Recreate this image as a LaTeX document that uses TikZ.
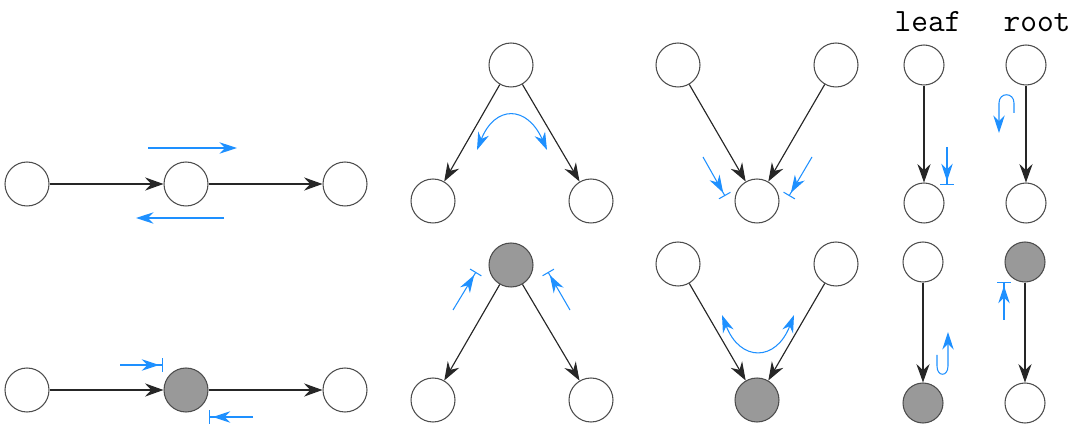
\documentclass[tikz,border=0pt]{standalone}
\usepackage{tikz}
\usetikzlibrary{arrows.meta}

\definecolor{flowblue}{RGB}{30,144,255}
\definecolor{hitgray}{RGB}{153,153,153}

\begin{document}
\begin{tikzpicture}[x=0.02cm, y=-0.02cm, >=Stealth,
  vtx/.style={circle, draw=black!70, line width=0.6pt, fill=white,
    minimum size=0.88cm, inner sep=0pt},
  sm/.style={minimum size=0.8cm},
  hit/.style={fill=hitgray},
  edg/.style={line width=0.65pt, black!85, -{Stealth[length=10.5pt,width=7.5pt,inset=3.5pt]}},
  flow/.style={line width=0.6pt, flowblue, -{Stealth[length=10pt,width=6.5pt,inset=3.2pt]}},
  twoway/.style={line width=0.6pt, flowblue,
    {Stealth[length=10pt,width=6.5pt,inset=3.2pt]}-{Stealth[length=10pt,width=6.5pt,inset=3.2pt]}},
  halt/.style={line width=0.6pt, flowblue,
    -{Stealth[length=10pt,width=6.5pt,inset=3.2pt,sep=1.5pt]Bar[width=7.5pt]}},
  lbl/.style={font=\ttfamily\fontsize{18.5}{18.5}\selectfont, anchor=base},
]
\useasboundingbox (0,0) rectangle (1080,429);

% Chain, forward and backward pass
\node[vtx] (a1) at (27,184) {};
\node[vtx] (a2) at (186,184) {};
\node[vtx] (a3) at (345,184) {};
\draw[edg] (a1) -- (a2);
\draw[edg] (a2) -- (a3);
\draw[flow] (148,148) -- (237,148);
\draw[flow] (224,218) -- (136,218);

% Chain, blocked at the middle vertex
\node[vtx] (b1) at (27,390) {};
\node[vtx,hit] (b2) at (186,390) {};
\node[vtx] (b3) at (345,390) {};
\draw[edg] (b1) -- (b2);
\draw[edg] (b2) -- (b3);
\draw[halt] (120,365) -- (163,365);
\draw[halt] (253,417) -- (209,417);

% Fork
\node[vtx] (f1) at (511,65) {};
\node[vtx] (f2) at (433,201) {};
\node[vtx] (f3) at (591,201) {};
\draw[edg] (f1) -- (f2);
\draw[edg] (f1) -- (f3);
\draw[twoway] (477,150) .. controls (495,105) and (527,105) .. (547,150);

% Fork, blocked at the top
\node[vtx,hit] (g1) at (511,265) {};
\node[vtx] (g2) at (433,400) {};
\node[vtx] (g3) at (591,400) {};
\draw[edg] (g1) -- (g2);
\draw[edg] (g1) -- (g3);
\draw[halt] (453,310) -- (476,272);
\draw[halt] (570,310) -- (548,272);

% Collider
\node[vtx] (v1) at (678,65) {};
\node[vtx] (v2) at (836,65) {};
\node[vtx] (v3) at (757,201) {};
\draw[edg] (v1) -- (v3);
\draw[edg] (v2) -- (v3);
\draw[halt] (703,157) -- (725,196);
\draw[halt] (812,157) -- (789,196);

% Collider, observed
\node[vtx] (w1) at (678,264) {};
\node[vtx] (w2) at (836,264) {};
\node[vtx,hit] (w3) at (757,400) {};
\draw[edg] (w1) -- (w3);
\draw[edg] (w2) -- (w3);
\draw[twoway] (722,315) .. controls (740,362) and (776,362) .. (794,315);

% leaf / root
\node[lbl] (leaf) at (928,32) {leaf};
\node[lbl] (root) at (1037,32) {root};

\node[vtx,sm] (l1) at (924,65) {};
\node[vtx,sm] (l2) at (924,203) {};
\draw[edg] (l1) -- (l2);
\draw[halt] (947,147) -- (947,185);

\node[vtx,sm] (r1) at (1026,65) {};
\node[vtx,sm] (r2) at (1026,203) {};
\draw[edg] (r1) -- (r2);
\draw[flow] (1014,113) -- (1014,103) .. controls (1014,92) and (999,92) .. (999,103) -- (999,133);

\node[vtx,sm] (l3) at (923,262) {};
\node[vtx,sm,hit] (l4) at (923,403) {};
\draw[edg] (l3) -- (l4);
\draw[flow] (937,355) -- (937,366) .. controls (937,377) and (948,377) .. (948,366) -- (948,332);

\node[vtx,sm,hit] (r3) at (1025,262) {};
\node[vtx,sm] (r4) at (1025,403) {};
\draw[edg] (r3) -- (r4);
\draw[halt] (1004,320) -- (1004,282);

\end{tikzpicture}
\end{document}
